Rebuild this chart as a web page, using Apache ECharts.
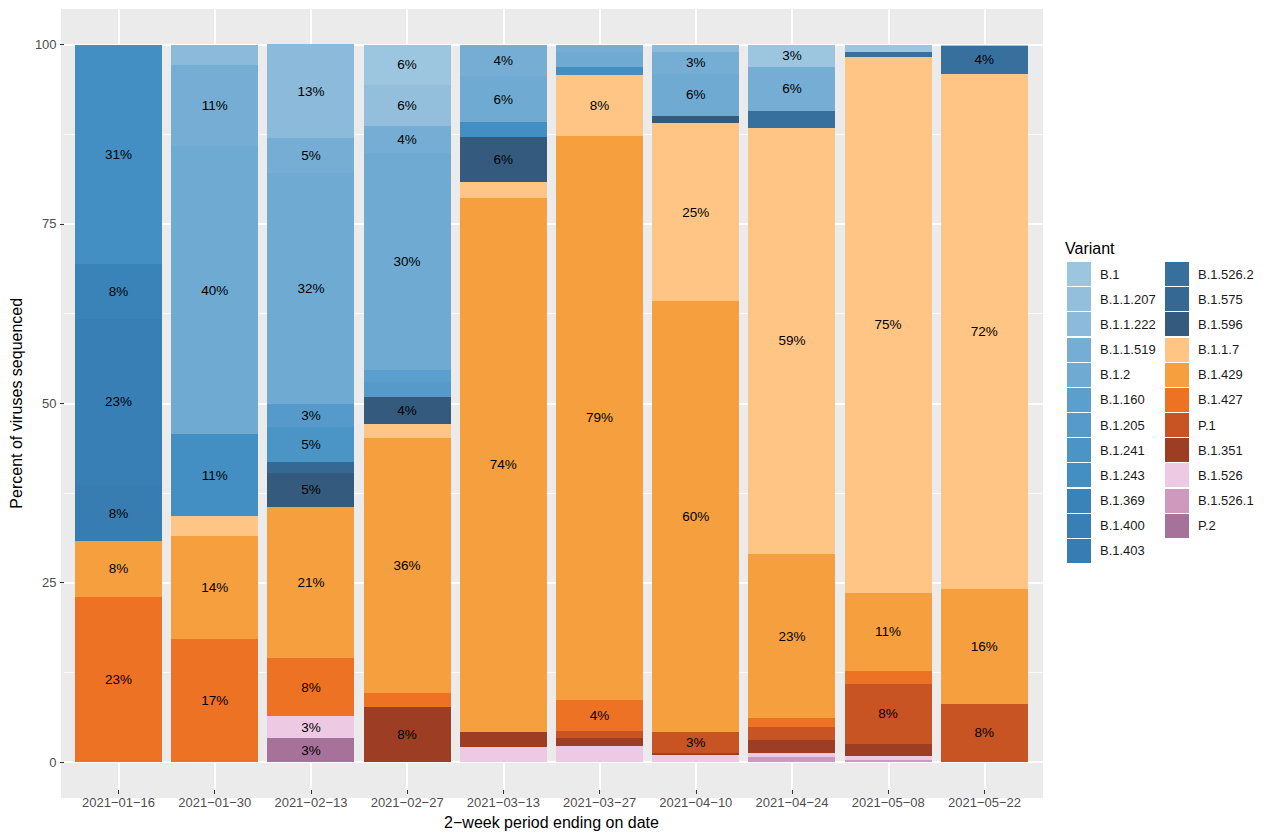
<!DOCTYPE html>
<html>
<head>
<meta charset="utf-8">
<script src="https://cdn.jsdelivr.net/npm/echarts@6/dist/echarts.min.js"></script>
<style>
html,body{margin:0;padding:0;background:#fff;}
#chart{width:1264px;height:835px;}
#chart svg path{shape-rendering:crispEdges;}
</style>
</head>
<body>
<div id="chart"></div>
<script>
// ---- data ----
const categories = ['2021-01-16','2021-01-30','2021-02-13','2021-02-27','2021-03-13','2021-03-27','2021-04-10','2021-04-24','2021-05-08','2021-05-22'];
const tickLabels = categories.map(d => d.replace(/-/g, '\u2212'));
const yTicks = [0, 25, 50, 75, 100];

const variantNames = ['B.1','B.1.1.207','B.1.1.222','B.1.1.519','B.1.2','B.1.160','B.1.205','B.1.241','B.1.243','B.1.369','B.1.400','B.1.403','B.1.526.2','B.1.575','B.1.596','B.1.1.7','B.1.429','B.1.427','P.1','B.1.351','B.1.526','B.1.526.1','P.2'];

const v_B_1       = [0, 0, 0, 5.6, 0, 0, 0, 3.1, 1.0, 0.2];
const v_B_1_1_207 = [0, 0, 0, 5.7, 0, 0, 0, 0, 0, 0];
const v_B_1_1_222 = [0, 2.9, 13.0, 0, 0, 0, 1.0, 0, 0, 0];
const v_B_1_1_519 = [0, 11.3, 4.9, 3.8, 4.4, 1.0, 3.1, 6.1, 0, 0];
const v_B_1_2     = [0, 40.1, 32.2, 30.2, 6.4, 2.2, 5.8, 0, 0, 0];
const v_B_1_160   = [0, 0, 0, 1.8, 0, 0, 0, 0, 0, 0];
const v_B_1_205   = [0, 0, 3.2, 2.0, 0, 0, 0, 0, 0, 0];
const v_B_1_241   = [0, 0, 4.9, 0, 0, 0, 0, 0, 0, 0];
const v_B_1_243   = [30.6, 11.4, 0, 0, 2.1, 1.1, 0, 0, 0, 0];
const v_B_1_369   = [7.6, 0, 0, 0, 0, 0, 0, 0, 0, 0];
const v_B_1_400   = [23.2, 0, 0, 0, 0, 0, 0, 0, 0, 0];
const v_B_1_403   = [7.8, 0, 0, 0, 0, 0, 0, 0, 0, 0];
const v_B_1_526_2 = [0, 0, 0, 0, 0, 0, 0, 2.4, 0.7, 3.9];
const v_B_1_575   = [0, 0, 1.5, 0, 0, 0, 0, 0, 0, 0];
const v_B_1_596   = [0, 0, 4.7, 3.8, 6.3, 0, 1.0, 0, 0, 0];
const v_B_1_1_7   = [0, 2.8, 0, 1.9, 2.2, 8.4, 24.9, 59.4, 74.7, 71.8];
const v_B_1_429   = [7.8, 14.3, 21.1, 35.6, 74.4, 78.7, 60.0, 22.9, 10.9, 16.0];
const v_B_1_427   = [23.0, 17.2, 8.1, 2.0, 0, 4.3, 0, 1.2, 1.8, 0];
const v_P_1       = [0, 0, 0, 0, 0, 1.0, 3.0, 1.8, 8.4, 8.1];
const v_B_1_351   = [0, 0, 0, 7.6, 2.1, 1.1, 0.2, 1.8, 1.7, 0];
const v_B_1_526   = [0, 0, 3.1, 0, 2.1, 2.2, 1.0, 0.6, 0.5, 0];
const v_B_1_526_1 = [0, 0, 0, 0, 0, 0, 0, 0.7, 0.3, 0];
const v_P_2       = [0, 0, 3.3, 0, 0, 0, 0, 0, 0, 0];

const seriesValues = [v_B_1, v_B_1_1_207, v_B_1_1_222, v_B_1_1_519, v_B_1_2, v_B_1_160, v_B_1_205, v_B_1_241, v_B_1_243, v_B_1_369, v_B_1_400, v_B_1_403, v_B_1_526_2, v_B_1_575, v_B_1_596, v_B_1_1_7, v_B_1_429, v_B_1_427, v_P_1, v_B_1_351, v_B_1_526, v_B_1_526_1, v_P_2];

// ---- styles ----
const colors = ['#9CC5E0','#93BFDD','#8BBADA','#75ADD4','#6FAAD2','#5B9FCD','#559ACA','#4A94C6','#438FC4','#3A83B9','#387FB5','#377DB2','#376F9D','#356893','#345B7D','#FEC585','#F59F3E','#EE7223','#C75422','#9D3D23','#EDC9E3','#CE99BC','#A6729A'];

const FONT = '"Liberation Sans", Arial, Helvetica, sans-serif';

const chart = echarts.init(document.getElementById('chart'), null, {renderer: 'svg'});

const series = variantNames.map((name, i) => ({
  name: name,
  type: 'bar',
  stack: 'all',
  xAxisIndex: 3,
  yAxisIndex: 3,
  barWidth: 87,
  z: 3,
  data: seriesValues[i].map(v => (v === 0 ? null : v)),
  itemStyle: {color: colors[i]},
  label: {
    show: true,
    position: 'inside',
    color: '#000',
    fontSize: 13.5,
    fontFamily: FONT,
    formatter: p => (p.value >= 3 ? Math.round(p.value) + '%' : '')
  },
  emphasis: {disabled: true}
})).reverse();

const legendCommon = {
  orient: 'vertical',
  itemWidth: 24,
  itemHeight: 24,
  itemGap: 1.17,
  icon: 'rect',
  padding: 0,
  selectedMode: false,
  itemStyle: {borderWidth: 0},
  textStyle: {fontSize: 13, color: '#1A1A1A', fontFamily: FONT, padding: [0, 0, 0, 4]}
};

const option = {
  animation: false,
  textStyle: {fontFamily: FONT},
  title: {
    text: 'Variant', left: 1065, top: 240, padding: 0,
    textStyle: {fontSize: 16, fontWeight: 'normal', color: '#000', fontFamily: FONT}
  },
  legend: [
    Object.assign({}, legendCommon, {left: 1067, top: 262, data: variantNames.slice(0, 12)}),
    Object.assign({}, legendCommon, {left: 1165, top: 262, data: variantNames.slice(12)})
  ],
  grid: [
    {left: 61, top: 8.6, width: 982, height: 789.4, show: true, backgroundColor: '#EBEBEB', borderWidth: 0, z: 0},
    {left: 61, top: 44.5, width: 982, height: 717.5, z: 0},
    {left: 118.5, top: 8.6, width: 866, height: 789.4, z: 0},
    {left: 70.4, top: 44.5, width: 962, height: 717.5, z: 0}
  ],
  xAxis: [
    {gridIndex: 0, type: 'value', show: false},
    {gridIndex: 1, type: 'value', show: false},
    {
      gridIndex: 2, type: 'category', boundaryGap: false, data: tickLabels, z: 1,
      axisLine: {show: false},
      axisTick: {show: true, length: 3.7, lineStyle: {color: '#333333', width: 1.1}},
      axisLabel: {color: '#4D4D4D', fontSize: 13, margin: 6, fontFamily: FONT, interval: 0},
      splitLine: {show: true, lineStyle: {color: '#FFFFFF', width: 1.6}},
      name: '2\u2212week period ending on date', nameLocation: 'middle', nameGap: 20,
      nameTextStyle: {fontSize: 16, color: '#000', fontFamily: FONT}
    },
    {gridIndex: 3, type: 'category', data: categories, show: false}
  ],
  yAxis: [
    {gridIndex: 0, type: 'value', show: false},
    {
      gridIndex: 1, type: 'value', min: yTicks[0], max: yTicks[yTicks.length - 1], interval: 25, z: 1,
      axisLine: {show: false},
      axisTick: {show: true, length: 3.7, lineStyle: {color: '#333333', width: 1.1}},
      axisLabel: {color: '#4D4D4D', fontSize: 13, margin: 7.5, fontFamily: FONT},
      splitLine: {show: true, lineStyle: {color: '#FFFFFF', width: 1.6}},
      minorTick: {show: false, splitNumber: 2},
      minorSplitLine: {show: true, lineStyle: {color: '#FFFFFF', width: 0.8}},
      name: 'Percent of viruses sequenced', nameLocation: 'middle', nameGap: 34,
      nameTextStyle: {fontSize: 16, color: '#000', fontFamily: FONT}
    },
    {gridIndex: 2, type: 'value', show: false},
    {gridIndex: 3, type: 'value', min: 0, max: 100, show: false}
  ],
  series: series
};

chart.setOption(option);
</script>
</body>
</html>
